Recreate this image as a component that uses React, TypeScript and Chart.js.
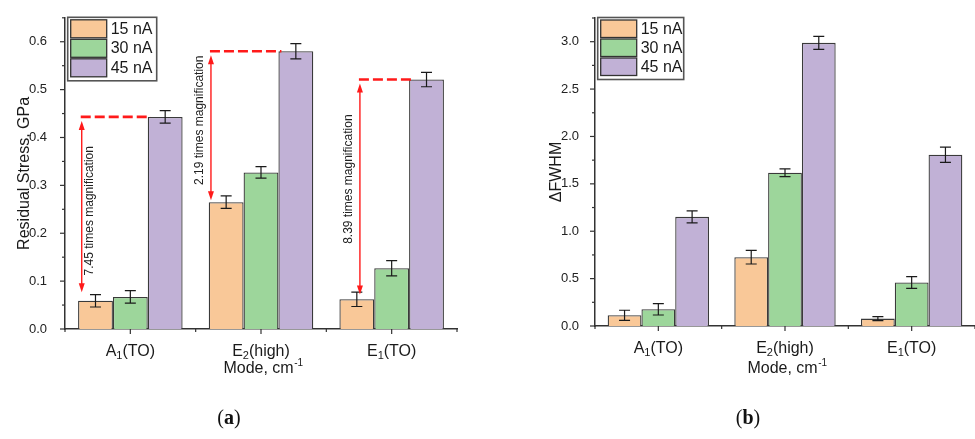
import React, { useEffect, useRef } from 'react';
import { Chart, registerables } from 'chart.js';

Chart.register(...registerables);

const FONT = '"Liberation Sans", Arial, Helvetica, sans-serif';

// ---- data ----
const categoryParts = [
  ['A', '1', '(TO)'],
  ['E', '2', '(high)'],
  ['E', '1', '(TO)'],
];
const categories = categoryParts.map((p) => p.join(''));
const seriesNames = ['15 nA', '30 nA', '45 nA'];
const seriesColors = ['#F9C898', '#9DD69B', '#C1B1D6'];

// (a) Residual stress, GPa
const stress15 = [0.059, 0.265, 0.062];
const stress30 = [0.067, 0.327, 0.127];
const stress45 = [0.443, 0.58, 0.521];
const stressErr15 = [0.013, 0.013, 0.015];
const stressErr30 = [0.013, 0.012, 0.016];
const stressErr45 = [0.013, 0.016, 0.015];

// (b) ΔFWHM
const fwhm15 = [0.113, 0.726, 0.078];
const fwhm30 = [0.176, 1.617, 0.459];
const fwhm45 = [1.152, 2.988, 1.807];
const fwhmErr15 = [0.053, 0.072, 0.021];
const fwhmErr30 = [0.06, 0.04, 0.061];
const fwhmErr45 = [0.063, 0.069, 0.081];

// (a) magnification annotations (category units / data units)
const magnificationLabels = [
  '7.45 times magnification',
  '2.19 times magnification',
  '8.39 times magnification',
];
const arrowX = [-0.372, 0.617, 1.757];
const arrowBottom = [0.077, 0.269, 0.072];
const magLabelX = [-0.309, 0.528, 1.668];
const magLabelY = [0.247, 0.436, 0.313];

const xTitleMain = 'Mode, cm';
const xTitleSup = '-1';

type Panel = {
  key: string;
  left: number;
  width: number;
  padding: { left: number; top: number; right: number; bottom: number };
  yMax: number;
  yStep: number;
  yMinor: number;
  yTitle: string;
  yTitlePad: number;
  tickPad: number;
  values: number[][];
  errors: number[][];
  labelOffset: number;
  titleOffset: number;
  legend: { w: number; h: number; dy: number };
  annotate: boolean;
};

const panelA: Panel = {
  key: 'a',
  left: 0,
  width: 480,
  padding: { left: 0, top: 13, right: 23, bottom: 110 },
  yMax: 0.65,
  yStep: 0.1,
  yMinor: 0.05,
  yTitle: 'Residual Stress, GPa',
  yTitlePad: 15,
  tickPad: 10,
  values: [stress15, stress30, stress45],
  errors: [stressErr15, stressErr30, stressErr45],
  labelOffset: 26.5,
  titleOffset: 44,
  legend: { w: 89, h: 63.5, dy: -0.5 },
  annotate: true,
};

const panelB: Panel = {
  key: 'b',
  left: 480,
  width: 495,
  padding: { left: 50, top: 18, right: 0, bottom: 113 },
  yMax: 3.25,
  yStep: 0.5,
  yMinor: 0.25,
  yTitle: 'ΔFWHM',
  yTitlePad: 16.5,
  tickPad: 8,
  values: [fwhm15, fwhm30, fwhm45],
  errors: [fwhmErr15, fwhmErr30, fwhmErr45],
  labelOffset: 26.5,
  titleOffset: 47,
  legend: { w: 86, h: 62, dy: -0.5 },
  annotate: false,
};

function font(size: number, weight = 'normal') {
  return `${weight} ${size}px ${FONT}`;
}

function drawArrowHead(ctx: CanvasRenderingContext2D, x: number, y: number, dir: number) {
  // dir = -1 pointing up, 1 pointing down
  ctx.beginPath();
  ctx.moveTo(x, y);
  ctx.lineTo(x - 3, y - dir * 9);
  ctx.lineTo(x + 3, y - dir * 9);
  ctx.closePath();
  ctx.fill();
}

function makePlugin(p: Panel) {
  return {
    id: 'custom_' + p.key,
    afterDatasetsDraw(chart: any) {
      const ctx: CanvasRenderingContext2D = chart.ctx;
      const ys = chart.scales.y;
      ctx.save();
      ctx.strokeStyle = '#1a1a1a';
      ctx.lineWidth = 1.2;
      chart.data.datasets.forEach((_ds: any, di: number) => {
        const meta = chart.getDatasetMeta(di);
        meta.data.forEach((el: any, i: number) => {
          const v = p.values[di][i];
          const e = p.errors[di][i];
          const x = el.x;
          const yT = ys.getPixelForValue(v + e);
          const yB = ys.getPixelForValue(v - e);
          const cap = 5.5;
          ctx.beginPath();
          ctx.moveTo(x, yT);
          ctx.lineTo(x, yB);
          ctx.moveTo(x - cap, yT);
          ctx.lineTo(x + cap, yT);
          ctx.moveTo(x - cap, yB);
          ctx.lineTo(x + cap, yB);
          ctx.stroke();
        });
      });
      ctx.restore();
    },
    afterDraw(chart: any) {
      const ctx: CanvasRenderingContext2D = chart.ctx;
      const ca = chart.chartArea;
      const ys = chart.scales.y;
      const xs = chart.scales.x;
      ctx.save();
      // y ticks (major + minor)
      ctx.strokeStyle = '#333';
      ctx.lineWidth = 1.2;
      const nMinor = Math.round(p.yMax / p.yMinor);
      for (let k = 0; k <= nMinor; k++) {
        const v = k * p.yMinor;
        const y = ys.getPixelForValue(v);
        const r = v / p.yStep;
        const major = Math.abs(r - Math.round(r)) < 1e-6;
        const len = major ? 5 : 3;
        ctx.beginPath();
        ctx.moveTo(ca.left - len, y);
        ctx.lineTo(ca.left, y);
        ctx.stroke();
      }
      // x ticks
      const n = categories.length;
      for (let i = 0; i < n; i++) {
        const x = xs.getPixelForValue(i);
        ctx.beginPath();
        ctx.moveTo(x, ca.bottom);
        ctx.lineTo(x, ca.bottom + 5);
        ctx.stroke();
      }
      for (let i = 0; i <= n; i++) {
        const x = xs.getPixelForValue(i - 0.5);
        ctx.beginPath();
        ctx.moveTo(x, ca.bottom);
        ctx.lineTo(x, ca.bottom + 3);
        ctx.stroke();
      }

      // x labels with subscripts
      ctx.fillStyle = '#1a1a1a';
      ctx.textBaseline = 'alphabetic';
      ctx.textAlign = 'left';
      categoryParts.forEach((parts, i) => {
        const x = xs.getPixelForValue(i);
        const base = ca.bottom + p.labelOffset;
        ctx.font = font(16);
        const w0 = ctx.measureText(parts[0]).width;
        const w2 = ctx.measureText(parts[2]).width;
        ctx.font = font(11);
        const w1 = ctx.measureText(parts[1]).width;
        let sx = x - (w0 + w1 + w2) / 2;
        ctx.font = font(16);
        ctx.fillText(parts[0], sx, base);
        sx += w0;
        ctx.font = font(11);
        ctx.fillText(parts[1], sx, base + 3.5);
        sx += w1;
        ctx.font = font(16);
        ctx.fillText(parts[2], sx, base);
      });

      // x title with superscript
      {
        const x = xs.getPixelForValue(1) + 2;
        const base = ca.bottom + p.titleOffset;
        ctx.font = font(16);
        const wm = ctx.measureText(xTitleMain).width;
        ctx.font = font(10);
        const ws = ctx.measureText(xTitleSup).width;
        let sx = x - (wm + ws) / 2;
        ctx.font = font(16);
        ctx.fillText(xTitleMain, sx, base);
        sx += wm + 0.5;
        ctx.font = font(10);
        ctx.fillText(xTitleSup, sx, base - 7);
      }

      // legend
      {
        const lx = ca.left + 2.7;
        const ly = ca.top + p.legend.dy;
        const w = p.legend.w;
        const h = p.legend.h;
        ctx.fillStyle = '#fff';
        ctx.fillRect(lx, ly, w, h);
        ctx.strokeStyle = '#555';
        ctx.lineWidth = 1.6;
        ctx.strokeRect(lx, ly, w, h);
        const pitch = (h - 5) / 3;
        seriesNames.forEach((name, r) => {
          const sy = ly + 2.5 + r * pitch;
          const sh = pitch - 1.5;
          ctx.fillStyle = seriesColors[r];
          ctx.fillRect(lx + 3, sy, 36, sh);
          ctx.strokeStyle = '#333';
          ctx.lineWidth = 1.3;
          ctx.strokeRect(lx + 3, sy, 36, sh);
          ctx.fillStyle = '#1a1a1a';
          ctx.font = font(16);
          ctx.textBaseline = 'middle';
          ctx.fillText(name, lx + 43, sy + sh / 2 + 0.5);
        });
      }

      // magnification annotations
      if (p.annotate) {
        const purple = chart.getDatasetMeta(2).data;
        for (let i = 0; i < n; i++) {
          const ax = xs.getPixelForValue(arrowX[i]);
          const yTop = ys.getPixelForValue(stress45[i]);
          const yBot = ys.getPixelForValue(arrowBottom[i]);
          const el = purple[i];
          const endX = el.x - el.width / 2 + 3;
          ctx.strokeStyle = '#ff1a1a';
          ctx.fillStyle = '#ff1a1a';
          ctx.setLineDash([10, 4]);
          ctx.lineWidth = 2.6;
          ctx.beginPath();
          ctx.moveTo(ax - 1, yTop);
          ctx.lineTo(endX, yTop);
          ctx.stroke();
          ctx.setLineDash([]);
          ctx.lineWidth = 1.4;
          const tipTop = yTop + 4;
          ctx.beginPath();
          ctx.moveTo(ax, tipTop + 6);
          ctx.lineTo(ax, yBot - 6);
          ctx.stroke();
          drawArrowHead(ctx, ax, tipTop, -1);
          drawArrowHead(ctx, ax, yBot, 1);

          const tx = xs.getPixelForValue(magLabelX[i]);
          const ty = ys.getPixelForValue(magLabelY[i]);
          ctx.save();
          ctx.translate(tx, ty);
          ctx.rotate(-Math.PI / 2);
          ctx.fillStyle = '#222';
          ctx.font = font(12);
          ctx.textAlign = 'center';
          ctx.textBaseline = 'middle';
          ctx.fillText(magnificationLabels[i], 0, 0);
          ctx.restore();
        }
      }
      ctx.restore();
    },
  };
}

function buildConfig(p: Panel): any {
  return {
    type: 'bar',
    data: {
      labels: categories,
      datasets: seriesNames.map((name, di) => ({
        label: name,
        data: p.values[di],
        backgroundColor: seriesColors[di],
        borderColor: '#3a3a3a',
        borderWidth: 1.3,
        categoryPercentage: 0.8,
        barPercentage: 1.0,
      })),
    },
    options: {
      responsive: false,
      animation: false,
      devicePixelRatio: 1,
      events: [],
      layout: { padding: p.padding },
      plugins: {
        legend: { display: false },
        tooltip: { enabled: false },
      },
      scales: {
        x: {
          type: 'category',
          offset: true,
          grid: { display: false },
          ticks: { display: false },
          border: { display: true, color: '#333', width: 1.5 },
          afterFit: (s: any) => {
            s.height = 0;
          },
        },
        y: {
          type: 'linear',
          min: 0,
          max: p.yMax,
          grid: { display: false },
          border: { display: true, color: '#333', width: 1.5 },
          ticks: {
            stepSize: p.yStep,
            includeBounds: false,
            autoSkip: false,
            padding: p.tickPad,
            color: '#222',
            font: { family: FONT, size: 13 },
            callback: (v: any) => Number(v).toFixed(1),
          },
          title: {
            display: true,
            text: p.yTitle,
            color: '#1a1a1a',
            font: { family: FONT, size: 16 },
            padding: { top: p.yTitlePad, bottom: 0 },
          },
          afterFit: (s: any) => {
            s.width = 65;
          },
        },
      },
    },
    plugins: [makePlugin(p)],
  };
}

function PanelCanvas({ panel }: { panel: Panel }) {
  const ref = useRef<HTMLCanvasElement>(null);
  useEffect(() => {
    const chart = new Chart(ref.current as HTMLCanvasElement, buildConfig(panel));
    return () => chart.destroy();
  }, [panel]);
  return (
    <canvas
      ref={ref}
      width={panel.width}
      height={439}
      style={{ position: 'absolute', left: panel.left, top: 0, width: panel.width, height: 439 }}
    />
  );
}

const captionStyle: React.CSSProperties = {
  position: 'absolute',
  top: 403,
  transform: 'translateX(-50%)',
  font: '20px "Liberation Serif", "DejaVu Serif", serif',
  color: '#111',
  lineHeight: '28px',
  whiteSpace: 'nowrap',
};

export default function App() {
  return (
    <div
      style={{
        position: 'absolute',
        left: 0,
        top: 0,
        width: 975,
        height: 439,
        background: '#fff',
        overflow: 'hidden',
      }}
    >
      <PanelCanvas panel={panelA} />
      <PanelCanvas panel={panelB} />
      <div style={{ ...captionStyle, left: 229 }}>
        (<b>a</b>)
      </div>
      <div style={{ ...captionStyle, left: 748 }}>
        (<b>b</b>)
      </div>
    </div>
  );
}
